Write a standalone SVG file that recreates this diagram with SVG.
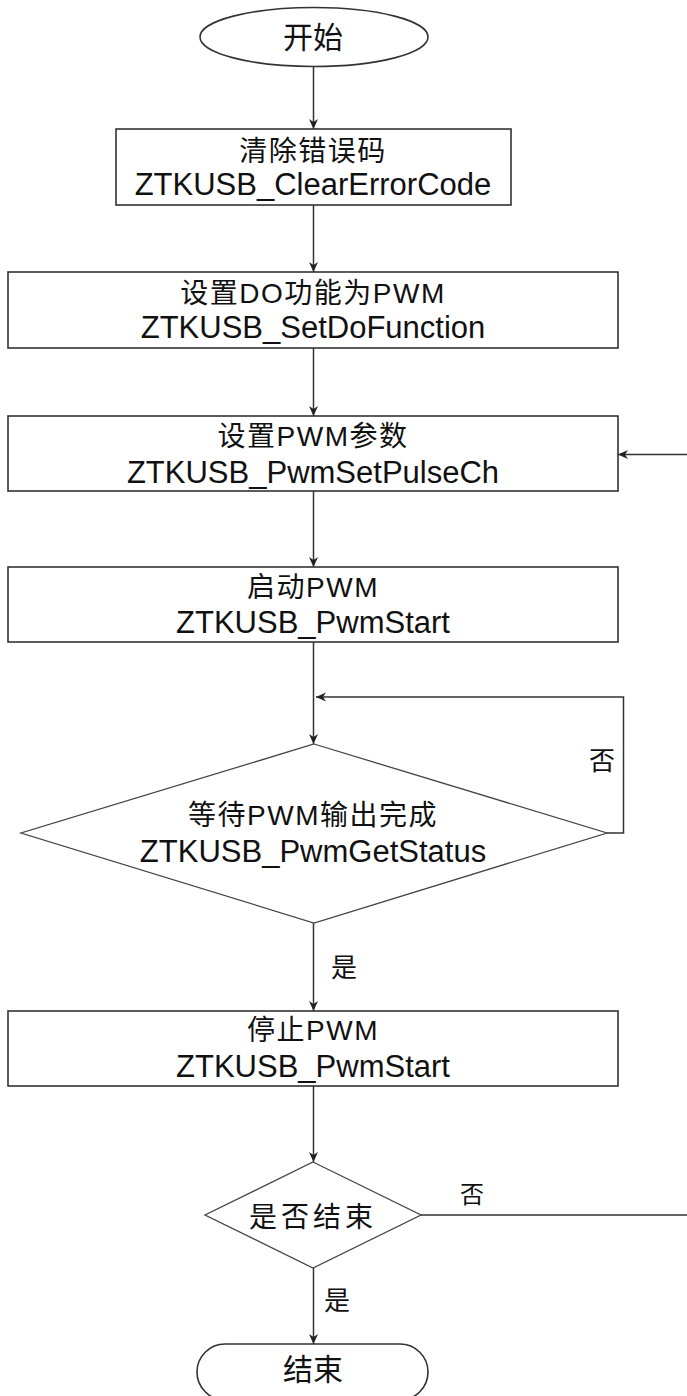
<svg xmlns="http://www.w3.org/2000/svg" width="687" height="1396" viewBox="0 0 687 1396">
  <style>
    .shape { fill: #ffffff; stroke: #333333; stroke-width: 1.6; }
    .dia { fill: #ffffff; stroke: #444444; stroke-width: 1.3; }
    .wire { fill: none; stroke: #333333; stroke-width: 1.5; }
    .t1 { font-family: "Liberation Sans", "Noto Sans CJK SC", sans-serif; font-size: 28px; letter-spacing: 1.5px; fill: #111111; text-anchor: middle; }
    .t2 { font-family: "Liberation Sans", "Noto Sans CJK SC", sans-serif; font-size: 31px; fill: #111111; text-anchor: middle; }
    .term { font-family: "Liberation Sans", "Noto Sans CJK SC", sans-serif; font-size: 30px; fill: #111111; text-anchor: middle; }
    .lbl { font-family: "Liberation Sans", "Noto Sans CJK SC", sans-serif; font-size: 26px; fill: #111111; text-anchor: middle; }
  </style>
  <defs>
    <marker id="arrow" viewBox="0 0 10 10" refX="10" refY="5" markerWidth="10" markerHeight="10" markerUnits="userSpaceOnUse" orient="auto">
      <path d="M0,0.5 L10,5 L0,9.5 L3,5 Z" fill="#222222"/>
    </marker>
  </defs>

  <!-- connectors -->
  <g id="connectors">
    <line class="wire" x1="313.5" y1="67" x2="313.5" y2="129" marker-end="url(#arrow)"/>
    <line class="wire" x1="313.5" y1="205" x2="313.5" y2="272" marker-end="url(#arrow)"/>
    <line class="wire" x1="313.5" y1="348" x2="313.5" y2="416" marker-end="url(#arrow)"/>
    <line class="wire" x1="313.5" y1="491" x2="313.5" y2="567" marker-end="url(#arrow)"/>
    <line class="wire" x1="313.5" y1="642" x2="313.5" y2="744" marker-end="url(#arrow)"/>
    <polyline class="wire" points="607,833 623.5,833 623.5,697 316,697" marker-end="url(#arrow)"/>
    <line class="wire" x1="313.5" y1="923" x2="313.5" y2="1011" marker-end="url(#arrow)"/>
    <line class="wire" x1="313.5" y1="1086" x2="313.5" y2="1162" marker-end="url(#arrow)"/>
    <line class="wire" x1="313.5" y1="1268" x2="313.5" y2="1344" marker-end="url(#arrow)"/>
    <polyline class="wire" points="421,1215 690,1215 690,454.5 618,454.5" marker-end="url(#arrow)"/>
    <text class="lbl" x="602" y="770">否</text>
    <text class="lbl" x="344" y="977">是</text>
    <text class="lbl" x="472" y="1203" style="font-size:24px">否</text>
    <text class="lbl" x="337" y="1310">是</text>
  </g>

  <!-- start terminal -->
  <g id="start">
    <ellipse class="shape" cx="314" cy="37" rx="114" ry="29.5"/>
    <text class="term" x="313" y="48">开始</text>
  </g>

  <!-- clear error code -->
  <g id="clear-error">
    <rect class="shape" x="116" y="129" width="395" height="76"/>
    <text class="t1" x="313" y="161">清除错误码</text>
    <text class="t2" x="313" y="195">ZTKUSB_ClearErrorCode</text>
  </g>

  <!-- set DO function -->
  <g id="set-do-function">
    <rect class="shape" x="8" y="272" width="610" height="76"/>
    <text class="t1" x="313" y="303">设置DO功能为PWM</text>
    <text class="t2" x="313" y="338">ZTKUSB_SetDoFunction</text>
  </g>

  <!-- set PWM parameters -->
  <g id="set-pwm-params">
    <rect class="shape" x="8" y="416" width="610" height="75"/>
    <text class="t1" x="313" y="446">设置PWM参数</text>
    <text class="t2" x="313" y="483">ZTKUSB_PwmSetPulseCh</text>
  </g>

  <!-- start PWM -->
  <g id="pwm-start">
    <rect class="shape" x="8" y="567" width="610" height="75"/>
    <text class="t1" x="313" y="597">启动PWM</text>
    <text class="t2" x="313" y="633">ZTKUSB_PwmStart</text>
  </g>

  <!-- wait for PWM output -->
  <g id="wait-status">
    <polygon class="dia" points="314,744 607,833 314,923 21,833"/>
    <text class="t1" x="313" y="825">等待PWM输出完成</text>
    <text class="t2" x="313" y="862">ZTKUSB_PwmGetStatus</text>
  </g>

  <!-- stop PWM -->
  <g id="pwm-stop">
    <rect class="shape" x="8" y="1011" width="610" height="75"/>
    <text class="t1" x="313" y="1040">停止PWM</text>
    <text class="t2" x="313" y="1077">ZTKUSB_PwmStart</text>
  </g>

  <!-- finished? -->
  <g id="is-finished">
    <polygon class="dia" points="313,1162 421,1215 313,1268 205,1215"/>
    <text class="t1" x="313" y="1227" style="letter-spacing:4px">是否结束</text>
  </g>

  <!-- end terminal -->
  <g id="end">
    <rect class="shape" x="197" y="1344" width="231" height="56" rx="28" ry="28"/>
    <text class="term" x="313" y="1380">结束</text>
  </g>
</svg>
